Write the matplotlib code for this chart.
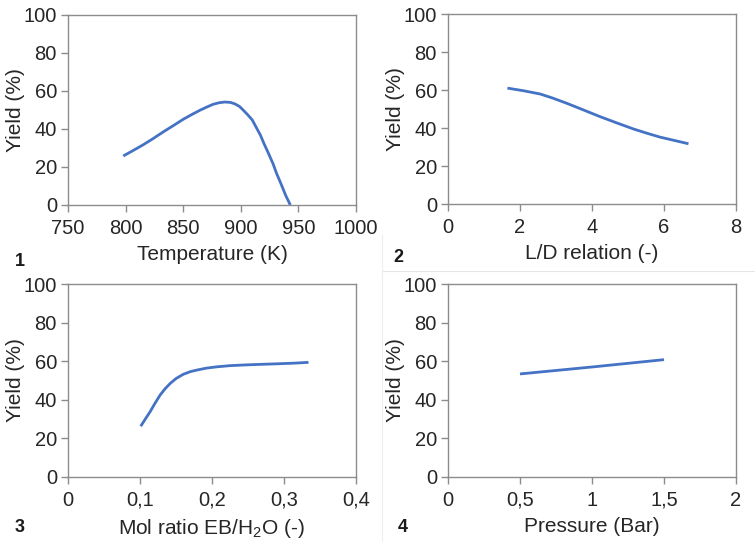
import matplotlib
matplotlib.use("Agg")
import matplotlib.pyplot as plt
from matplotlib.lines import Line2D

plt.rcParams["font.family"] = ["Liberation Sans", "DejaVu Sans"]

# panel 1: temperature
temp_k = [798, 806, 815, 824, 833, 842, 850, 858, 865, 871, 876, 881, 886, 891, 895,
          899, 902, 906, 910, 913, 917, 920, 924, 928, 931, 935, 939, 943]
temp_yield = [25.8, 28.5, 31.6, 35.0, 38.6, 42.0, 45.1, 47.8, 50.0, 51.7, 53.0, 53.8, 54.2,
              54.0, 53.2, 51.8, 50.0, 47.5, 44.7, 41.3, 36.8, 32.5, 27.2, 21.7, 16.7, 11.0, 5.0, 0.0]

# panel 2: L/D relation
ld_ratio = [1.65, 2.1, 2.56, 2.9, 3.3, 3.75, 4.22, 4.7, 5.15, 5.5, 5.89, 6.3, 6.68]
ld_yield = [61.0, 59.6, 57.9, 55.8, 53.0, 49.6, 46.0, 42.6, 39.5, 37.4, 35.2, 33.4, 31.7]

# panel 3: molar ratio EB/H2O
mol_ratio = [0.101, 0.107, 0.114, 0.121, 0.128, 0.135, 0.142, 0.150, 0.160, 0.170, 0.179,
             0.192, 0.207, 0.225, 0.248, 0.270, 0.294, 0.315, 0.334]
mol_yield = [26.3, 29.8, 33.8, 38.3, 42.5, 45.8, 48.5, 51.0, 53.2, 54.6, 55.4,
             56.4, 57.1, 57.7, 58.1, 58.4, 58.7, 59.0, 59.4]

# panel 4: pressure
pressure_bar = [0.5, 1.0, 1.5]
pressure_yield = [53.4, 57.0, 60.8]

panels = [
    (temp_k, temp_yield, (750, 1000), [750, 800, 850, 900, 950, 1000],
     ["750", "800", "850", "900", "950", "1000"], "Temperature (K)", "1"),
    (ld_ratio, ld_yield, (0, 8), [0, 2, 4, 6, 8],
     ["0", "2", "4", "6", "8"], "L/D relation (-)", "2"),
    (mol_ratio, mol_yield, (0, 0.4), [0, 0.1, 0.2, 0.3, 0.4],
     ["0", "0,1", "0,2", "0,3", "0,4"], "Mol ratio EB/H$_\\mathregular{2}$O (-)", "3"),
    (pressure_bar, pressure_yield, (0, 2), [0, 0.5, 1, 1.5, 2],
     ["0", "0,5", "1", "1,5", "2"], "Pressure (Bar)", "4"),
]

W, H = 755, 542
fig = plt.figure(figsize=(W / 100, H / 100), dpi=100)

# axes boxes in pixels: left, top, right, bottom
boxes = [(68, 15, 356, 205), (448, 14, 736, 204),
         (68, 284, 356, 477), (448, 284, 736, 477)]
num_pos = [(15, 262), (393, 258), (15, 527), (398, 527)]

spine_c = "#8c8c8c"
text_c = "#262626"

for (x, y, xlim, xt, xtl, xlabel, num), (l, t, r, b), (nx, ny) in zip(panels, boxes, num_pos):
    ax = fig.add_axes([l / W, 1 - b / H, (r - l) / W, (b - t) / H])
    ax.plot(x, y, color="#4472C4", lw=2.0, solid_capstyle="butt", solid_joinstyle="round")
    ax.set_xlim(*xlim)
    ax.set_ylim(0, 100)
    ax.set_xticks(xt)
    ax.set_xticklabels(xtl)
    ax.set_yticks([0, 20, 40, 60, 80, 100])
    for s in ax.spines.values():
        s.set_color(spine_c)
        s.set_linewidth(1.0)
    ax.tick_params(axis="both", direction="out", length=5, width=1.0, color=spine_c,
                   labelsize=14.5, labelcolor=text_c, pad=3)
    ax.tick_params(axis="x", pad=5)
    ax.set_xlabel(xlabel, fontsize=15, color=text_c, labelpad=5)
    ax.set_ylabel("Yield (%)", fontsize=15, color=text_c, labelpad=-1)
    fig.text(nx / W, 1 - ny / H, num, fontsize=13, fontweight="bold",
             color="#1a1a1a", ha="left", va="center")

# faint frame lines around panel 4
fig.add_artist(Line2D([382 / W, 1], [1 - 271 / H, 1 - 271 / H], color="#e6e6e6", lw=0.8))
fig.add_artist(Line2D([382 / W, 382 / W], [0, 1 - 235 / H], color="#eeeeee", lw=0.8))

fig.savefig("out.png", dpi=100)
